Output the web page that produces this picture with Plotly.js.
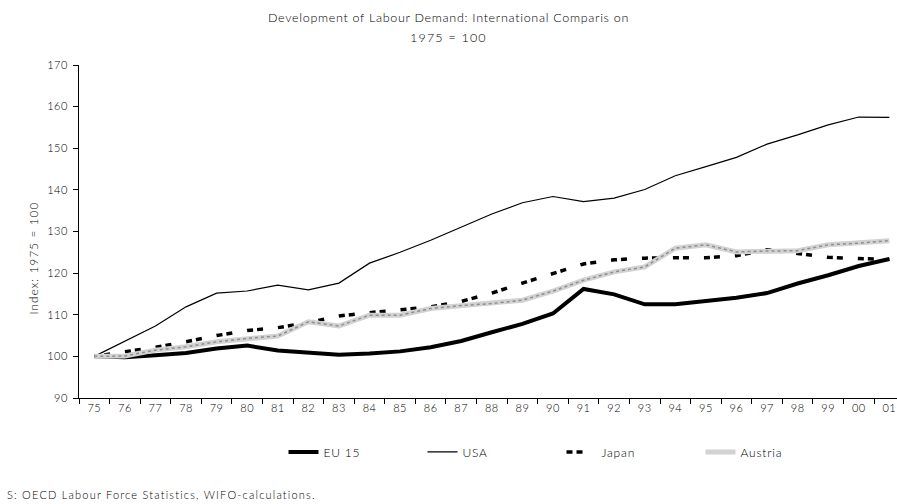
<!DOCTYPE html>
<html>
<head>
<meta charset="utf-8">
<script src="https://cdn.plot.ly/plotly-3.0.1.min.js"></script>
<style>
html,body{margin:0;padding:0;background:#fff;}
#chart{width:897px;height:504px;}
#chart .gtitle{letter-spacing:0.7px;}
#chart .legendtext{letter-spacing:0.8px;}
#chart .annotation-text{letter-spacing:1.2px;}
#chart .xtick text, #chart .ytick text{letter-spacing:0.5px;}
</style>
</head>
<body>
<div id="chart"></div>
<script>
var years = ['75','76','77','78','79','80','81','82','83','84','85','86','87','88','89','90','91','92','93','94','95','96','97','98','99','00','01'];
var eu15 = [100,99.8,100.3,100.8,101.9,102.6,101.4,100.8,100.4,100.7,101.2,102.2,103.7,105.8,107.8,110.3,116.2,114.9,112.5,112.5,113.3,114.1,115.2,117.5,119.5,121.7,123.4];
var usa = [100,103.7,107.3,111.9,115.2,115.7,117.1,116.0,117.6,122.4,125.0,127.9,131.0,134.2,136.9,138.4,137.2,138.0,140.1,143.4,145.6,147.8,151.0,153.2,155.6,157.5,157.4];
var japan = [100,101.0,102.2,103.5,105.0,106.2,106.9,108.1,109.7,110.5,111.1,111.9,113.2,115.2,117.6,120.0,122.2,123.2,123.6,123.7,123.7,124.2,125.6,124.7,123.8,123.5,123.3];
var austria = [100,100.1,101.5,102.3,103.5,104.3,104.9,108.3,107.3,109.9,109.9,111.5,112.2,112.7,113.5,115.7,118.3,120.3,121.5,126.0,126.8,125.1,125.3,125.4,126.8,127.2,127.8];
var names = ['EU 15','USA','Japan','Austria'];

var font = 'Lato, "DejaVu Sans", sans-serif';
var traces = [
  {x: years, y: eu15, name: names[0], type: 'scatter', mode: 'lines', line: {color: '#000', width: 4}},
  {x: years, y: usa, name: names[1], type: 'scatter', mode: 'lines', line: {color: '#000', width: 1.2}},
  {x: years, y: japan, name: names[2], type: 'scatter', mode: 'lines', line: {color: '#000', width: 3.5, dash: '6px,4px,6px,15px'}},
  {x: years, y: austria, name: names[3], type: 'scatter', mode: 'lines', line: {color: '#d2d2d2', width: 5}},
  {x: years, y: austria, name: names[3], type: 'scatter', mode: 'lines', showlegend: false, hoverinfo: 'skip', line: {color: '#8e8e8e', width: 1.5, dash: 'dot'}}
];

var layout = {
  width: 897, height: 504,
  paper_bgcolor: '#fff', plot_bgcolor: '#fff',
  margin: {l: 79, r: 0, t: 65, b: 106, autoexpand: false},
  font: {family: font, size: 11, color: '#000', weight: 300},
  title: {text: 'Development of Labour Demand: International Comparis on', x: 0.5, xref: 'container', xanchor: 'center', yref: 'container', y: 1 - 18/504, yanchor: 'middle', font: {family: font, size: 12.5, color: '#000', weight: 300}},
  xaxis: {type: 'category', range: [-0.5, 26.25], tickson: 'boundaries', ticks: 'outside', ticklen: 5, tickcolor: '#000', showline: true, linecolor: '#000', linewidth: 1, showgrid: false, zeroline: false, tickfont: {size: 11}, fixedrange: true},
  yaxis: {range: [90, 170], dtick: 10, ticks: 'outside', ticklen: 5, tickcolor: '#000', showline: true, linecolor: '#000', linewidth: 1, showgrid: false, zeroline: false, tickfont: {size: 11}, ticklabelstandoff: 3},
  showlegend: true,
  legend: {orientation: 'h', x: 0.25, xanchor: 'left', y: -0.162, yanchor: 'middle', entrywidth: 94, entrywidthmode: 'pixels', font: {size: 12}, traceorder: 'normal', bgcolor: 'rgba(0,0,0,0)'},
  annotations: [
    {text: '1975 = 100', xref: 'paper', yref: 'paper', x: (448 - 79) / 818, y: (398 - 38) / 333, xanchor: 'center', yanchor: 'middle', showarrow: false, font: {size: 12.5}},
    {text: 'Index: 1975 = 100', xref: 'paper', yref: 'paper', x: -0.056, y: 0.42, xanchor: 'center', yanchor: 'middle', textangle: -90, showarrow: false, font: {size: 11.5}},
    {text: 'S: OECD Labour Force Statistics, WIFO-calculations.', xref: 'paper', yref: 'paper', x: -0.091, y: -0.291, xanchor: 'left', yanchor: 'middle', align: 'left', showarrow: false, font: {size: 11}}
  ]
};
Plotly.newPlot('chart', traces, layout, {displayModeBar: false, staticPlot: true});
</script>
</body>
</html>
